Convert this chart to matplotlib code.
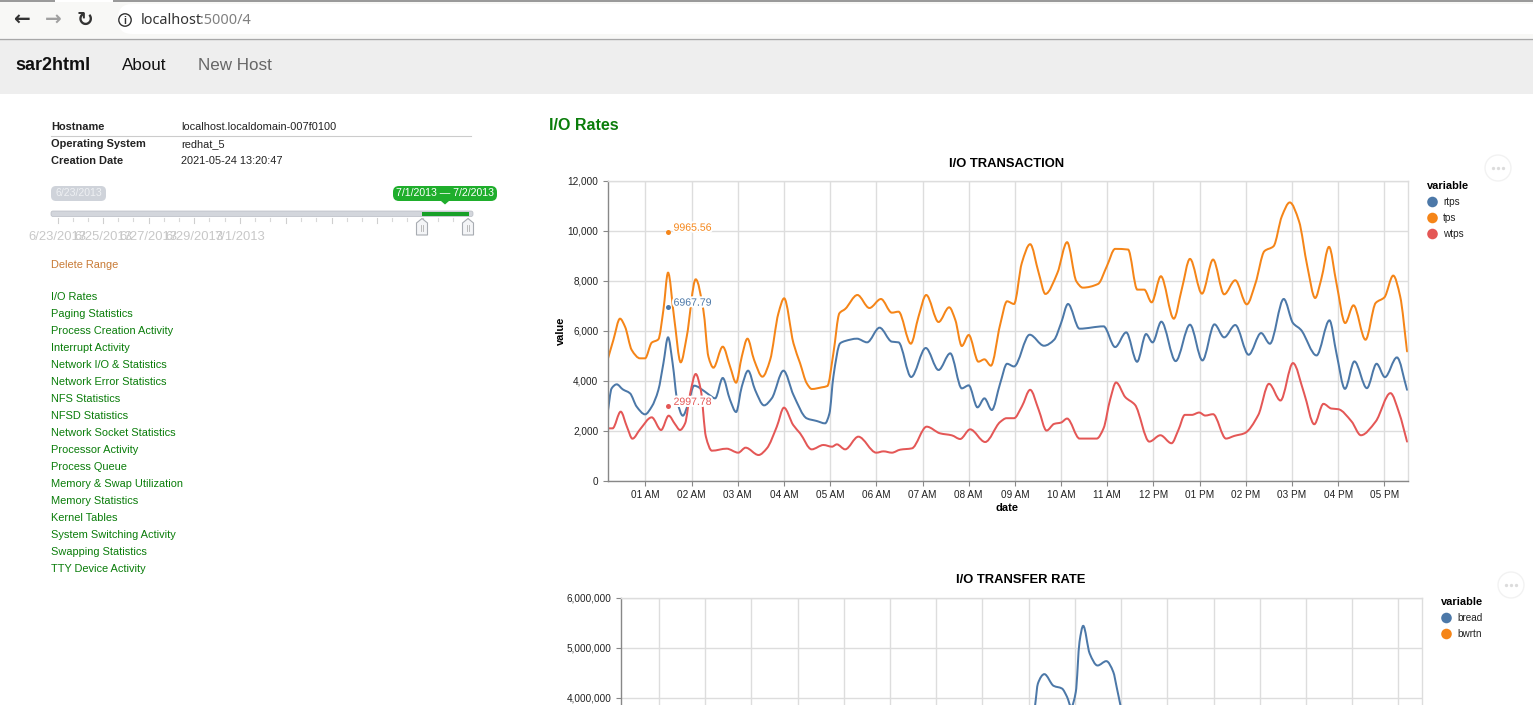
import matplotlib
matplotlib.use("Agg")
import numpy as np
import matplotlib.pyplot as plt
from matplotlib.path import Path
from matplotlib.patches import PathPatch, Rectangle, FancyBboxPatch, Circle, Polygon
import matplotlib.patheffects as pe

plt.rcParams['font.family'] = ['Liberation Sans', 'DejaVu Sans']

# ---------- chart 1: hours since midnight and values ----------
tps_h = [.177,.307,.451,.56,.704,.885,.993,1.137,1.281,1.39,1.491,1.62,1.765,1.895,2.09,2.255,2.365,2.473,2.675,2.834,2.964,3.087,3.21,3.354,3.534,3.70,3.88,4.004,4.206,4.35,4.494,4.603,4.82,4.94,5.07,5.20,5.325,5.59,5.85,6.10,6.336,6.48,6.747,6.913,7.08,7.347,7.577,7.71,7.85,8.0,8.21,8.34,8.48,8.68,8.83,8.98,9.15,9.33,9.515,9.66,9.92,10.13,10.33,10.47,10.80,10.99,11.17,11.45,11.65,11.80,11.96,12.16,12.44,12.61,12.79,13.05,13.29,13.53,13.77,14.02,14.21,14.40,14.6,14.78,14.95,15.15,15.33,15.50,15.63,15.80,15.96,16.15,16.33,16.59,16.81,17.0,17.19,17.34,17.49]
tps_v = [4813,5640,6493,6170,5240,4907,4907,5533,5667,6840,8333,6573,4747,5773,8067,6840,4973,4533,5373,4573,3933,4973,5693,4840,4173,4840,6707,7307,5507,4707,3907,3680,3747,3800,5107,6707,6880,7440,6920,7280,6733,6773,5493,6573,7440,6360,6947,6440,5400,5840,4773,4867,4613,6250,7188,7081,8724,9472,8323,7482,8323,9552,7989,7735,7882,8590,9285,9258,7655,7655,7147,8190,6493,7655,8884,7495,8857,7468,8029,7067,7922,9191,9392,10594,11142,10394,8590,7321,8056,9365,7922,6319,7027,5651,7121,7348,8216,7388,5184]

rtps_h = [.177,.27,.38,.51,.668,.812,.993,1.137,1.281,1.39,1.491,1.59,1.693,1.81,1.93,2.054,2.29,2.386,2.51,2.675,2.834,2.964,3.087,3.224,3.376,3.57,3.736,3.99,4.206,4.494,4.71,4.89,4.985,5.07,5.216,5.325,5.58,5.80,6.07,6.336,6.48,6.754,7.07,7.347,7.6,7.85,8.0,8.19,8.34,8.5,8.68,8.83,8.98,9.32,9.63,9.85,10.0,10.15,10.40,10.92,11.17,11.41,11.645,11.84,11.98,12.17,12.48,12.79,13.06,13.32,13.53,13.77,14.06,14.33,14.52,14.82,15.02,15.19,15.53,15.81,15.96,16.145,16.35,16.62,16.83,17.01,17.27,17.49]
rtps_v = [2640,3706,3866,3666,3506,2973,2666,2973,3640,4706,5746,4706,3173,2613,3106,3813,3573,3440,3306,4120,3240,2760,3773,4413,3640,3026,3306,4413,3440,2506,2400,2306,2706,4173,5506,5600,5693,5546,6133,5573,5546,4160,5320,4440,5106,3706,3826,2946,3306,2840,3900,4689,4582,5852,5411,5651,6319,7081,6092,6186,5357,5945,4770,5878,5544,6373,4796,6252,4823,6266,5745,6239,5050,5918,5491,7281,6319,6052,5023,6426,5117,3687,4783,3714,4689,4155,4943,3647]

wtps_h = [.177,.29,.466,.60,.72,.885,1.137,1.34,1.505,1.64,1.75,1.86,1.97,2.09,2.2,2.31,2.44,2.76,3.01,3.17,3.45,3.63,3.845,4.0,4.2,4.35,4.60,4.855,5.04,5.145,5.325,5.61,6.0,6.155,6.336,6.516,6.77,7.09,7.38,7.635,7.815,8.03,8.356,8.68,8.82,8.98,9.15,9.33,9.515,9.685,9.85,10.0,10.13,10.40,10.77,10.92,11.06,11.19,11.39,11.60,11.91,12.15,12.39,12.54,12.68,12.83,12.99,13.12,13.29,13.57,13.75,13.97,14.27,14.50,14.75,15.02,15.26,15.48,15.68,15.85,16.0,16.29,16.49,16.81,17.13,17.32,17.49]
wtps_v = [2106,2106,2773,2173,1693,2066,2546,2040,2613,2280,2040,2306,3506,4280,3640,1773,1213,1293,1133,1333,1040,1306,2173,2933,2240,1906,1266,1440,1373,1466,1266,1773,1133,1186,1133,1253,1306,2173,1906,1826,1680,2066,1560,2360,2512,2512,2979,3647,2846,2017,2285,2338,2498,1697,1697,2111,3246,3941,3353,3046,1576,1830,1510,2044,2645,2645,2739,2618,2672,1697,1804,1910,2645,3888,3220,4716,3514,2271,3086,2899,2872,2378,1830,2378,3514,2712,1576]

mark_h = [1.49, 1.49, 1.49]
mark_v = [9965.56, 6967.79, 2997.78]
mark_lbl = ['9965.56', '6967.79', '2997.78']

hour_ticks = list(range(1, 18))
hour_lbls = ['01 AM','02 AM','03 AM','04 AM','05 AM','06 AM','07 AM','08 AM','09 AM','10 AM','11 AM','12 PM','01 PM','02 PM','03 PM','04 PM','05 PM']
y1_ticks = [0, 2000, 4000, 6000, 8000, 10000, 12000]

# ---------- chart 2 (visible part) ----------
bread_h = [9.14,9.2,9.34,9.54,9.72,9.83,9.92,10.02,10.1,10.18,10.32,10.49,10.68,10.83,10.91,11.0]
bread_v = [3.847e6,4.28e6,4.467e6,4.233e6,4.18e6,4.013e6,3.813e6,4.113e6,5.113e6,5.433e6,4.88e6,4.64e6,4.727e6,4.513e6,4.18e6,3.78e6]
y2_ticks = [4000000, 5000000, 6000000]

# ---------- page text ----------
info_keys = ['Hostname', 'Operating System', 'Creation Date']
info_vals = ['localhost.localdomain-007f0100', 'redhat_5', '2021-05-24 13:20:47']
menu_items = ['I/O Rates','Paging Statistics','Process Creation Activity','Interrupt Activity','Network I/O & Statistics','Network Error Statistics','NFS Statistics','NFSD Statistics','Network Socket Statistics','Processor Activity','Process Queue','Memory & Swap Utilization','Memory Statistics','Kernel Tables','System Switching Activity','Swapping Statistics','TTY Device Activity']
slider_lbls = ['6/23/2013','6/25/2013','6/27/2013','6/29/2013','7/1/2013']

BLUE, ORANGE, RED = '#4c78a8', '#f58518', '#e45756'
W, H = 1533, 705
px = 0.72  # css px -> pt at dpi 100


def pchip_path(x, y):
    """Cubic Bezier path through the read points (a smooth line style)."""
    x, y = np.asarray(x, float), np.asarray(y, float)
    h = np.diff(x)
    s = np.diff(y) / h
    m = np.zeros_like(x)
    for i in range(1, len(x) - 1):
        if s[i - 1] * s[i] > 0:
            w1, w2 = 2 * h[i] + h[i - 1], h[i] + 2 * h[i - 1]
            m[i] = (w1 + w2) / (w1 / s[i - 1] + w2 / s[i])
    m[0], m[-1] = s[0], s[-1]
    verts, codes = [(x[0], y[0])], [Path.MOVETO]
    for i in range(len(h)):
        verts += [(x[i] + h[i] / 3, y[i] + m[i] * h[i] / 3),
                  (x[i + 1] - h[i] / 3, y[i + 1] - m[i + 1] * h[i] / 3),
                  (x[i + 1], y[i + 1])]
        codes += [Path.CURVE4] * 3
    return Path(verts, codes)


fig = plt.figure(figsize=(W / 100, H / 100), dpi=100, facecolor='white')

# page layer in pixel coordinates
pg = fig.add_axes([0, 0, 1, 1], zorder=0)
pg.set_xlim(0, W)
pg.set_ylim(H, 0)
pg.axis('off')


def T(x, y, s, size=11, color='#222222', weight='normal', ha='left', va='center', **kw):
    return pg.text(x, y, s, fontsize=size * px, color=color, fontweight=weight, ha=ha, va=va, **kw)


# browser chrome
pg.add_patch(Rectangle((0, 0), W, 3, fc='#9a9a9a', ec='none'))
pg.add_patch(Rectangle((55, 0), 58, 3, fc='white', ec='none'))
pg.add_patch(Rectangle((0, 2), W, 36, fc='#f8f8f6', ec='none'))
pg.add_patch(FancyBboxPatch((118, 4), W, 30, boxstyle='round,pad=0,rounding_size=14', fc='white', ec='none'))
pg.plot([0, W], [38.5, 38.5], color='#a8a8a8', lw=1)
pg.add_patch(Rectangle((0, 39), W, 55, fc='#eeeeee', ec='none'))
T(21, 20, '←', 20, '#333333', 'bold', ha='center', family='DejaVu Sans')
T(53, 20, '→', 20, '#a0a0a0', 'bold', ha='center', family='DejaVu Sans')
T(85, 20, '↻', 20, '#333333', 'bold', ha='center', family='DejaVu Sans')
pg.add_patch(Circle((125, 20), 6.2, fc='none', ec='#333333', lw=1))
T(125, 20.5, 'i', 10, '#333333', 'bold', ha='center')
t = T(141, 20, 'localhost', 14.5, '#333333', family='Noto Sans')
T(200, 20, ':5000/4', 14.5, '#808080', family='Noto Sans')

# navbar
T(15, 66, 'sar2html', 18, '#111111', 'bold')
T(122, 65, 'About', 17, '#111111')
T(198, 65, 'New Host', 17, '#666666')

# info table
for i, (k, v) in enumerate(zip(info_keys, info_vals)):
    T(51, 127 + 17 * i, k, 11, '#222222', 'bold')
    T(181, 127 + 17 * i, v, 11, '#222222')
pg.plot([51, 471], [135.5, 135.5], color='#cccccc', lw=0.8)

# slider badges
pg.add_patch(FancyBboxPatch((51, 186), 55, 15, boxstyle='round,pad=0,rounding_size=5', fc='#cfd3da', ec='none'))
T(78.5, 193.5, '6/23/2013', 10.5, '#eef0f3', ha='center')
pg.add_patch(FancyBboxPatch((393, 186), 104, 15, boxstyle='round,pad=0,rounding_size=6', fc='#1fae2c', ec='none'))
pg.add_patch(Polygon([(441, 201), (449, 201), (445, 204.5)], fc='#1fae2c', ec='none'))
T(445, 193.5, '7/1/2013 — 7/2/2013', 10.5, '#ffffff', ha='center')

# slider track
pg.add_patch(FancyBboxPatch((51, 211), 422, 5.5, boxstyle='round,pad=0,rounding_size=2', fc='#d3d6dc', ec='#b8bcc4', lw=0.5))
pg.add_patch(Rectangle((422, 211.5), 47, 4.8, fc='#17a028', ec='none'))
major_x = [57.5, 103, 148.5, 194, 240, 285.5, 331.5, 377, 422.5, 468]
for a, b in zip(major_x[:-1], major_x[1:]):
    pg.plot([a, a], [218, 223], color='#cfcfcf', lw=0.8)
    for f in (1 / 3, 2 / 3):
        pg.plot([a + (b - a) * f] * 2, [218, 220.5], color='#d8d8d8', lw=0.8)
pg.plot([468, 468], [218, 223], color='#cfcfcf', lw=0.8)
for xp, s in zip(major_x, slider_lbls):
    T(xp, 236.5, s, 13, '#c8c8c8', ha='center')
for xp in (422, 468):
    pg.add_patch(Polygon([(xp, 218.5), (xp + 5.5, 223), (xp + 5.5, 235), (xp - 5.5, 235), (xp - 5.5, 223)],
                         fc='#f4f5f7', ec='#a8acb2', lw=0.8, zorder=5))
    pg.plot([xp - 1.3, xp - 1.3], [225, 231], color='#b0b0b0', lw=0.6, zorder=6)
    pg.plot([xp + 1.3, xp + 1.3], [225, 231], color='#b0b0b0', lw=0.6, zorder=6)

T(51, 265, 'Delete Range', 11, '#c87a35')
for i, s in enumerate(menu_items):
    T(51, 297 + 17 * i, s, 11, '#0a7d0a')
T(549, 125, 'I/O Rates', 16, '#0a7d0a', 'bold')


def chart_axes(l, t, r, b, xlim, ylim):
    ax = fig.add_axes([l / W, 1 - b / H, (r - l) / W, (b - t) / H], zorder=2)
    ax.patch.set_alpha(0)
    ax.set_xlim(*xlim)
    ax.set_ylim(*ylim)
    ax.set_xticks(hour_ticks)
    ax.grid(True, color='#dddddd', lw=1)
    ax.set_axisbelow(True)
    for side in ('top', 'right'):
        ax.spines[side].set_color('#dddddd')
        ax.spines[side].set_linewidth(1)
    for side in ('left', 'bottom'):
        ax.spines[side].set_color('#888888')
        ax.spines[side].set_linewidth(1)
    ax.tick_params(length=5 * px, width=0.8, color='#888888', labelsize=10 * px, pad=3, labelcolor='#222222')
    return ax


# ---------- chart 1 ----------
ax1 = chart_axes(607.5, 181, 1408, 481, (0.18, 17.51), (0, 12000))
ax1.set_xticklabels(hour_lbls)
ax1.set_yticks(y1_ticks)
ax1.set_yticklabels([f'{v:,}' for v in y1_ticks])
for xs, ys, c in ((rtps_h, rtps_v, BLUE), (tps_h, tps_v, ORANGE), (wtps_h, wtps_v, RED)):
    ax1.add_patch(PathPatch(pchip_path(xs, ys), fill=False, ec=c, lw=2 * px, capstyle='round'))
for xv, yv, s, c in zip(mark_h, mark_v, mark_lbl, (ORANGE, BLUE, RED)):
    ax1.plot([xv], [yv], 'o', color=c, ms=5 * px, mec='none', zorder=6)
    ax1.annotate(s, (xv, yv), xytext=(4, 3), textcoords='offset points', fontsize=10.5 * px, color=c, va='center',
                 zorder=7, path_effects=[pe.withStroke(linewidth=3, foreground='white')])
T(1007, 164, 'I/O TRANSACTION', 13, '#000000', 'bold', ha='center')
T(1007, 508, 'date', 11, '#000000', 'bold', ha='center')
T(561, 331, 'value', 11, '#000000', 'bold', ha='center', rotation=90)
T(1427, 186, 'variable', 11, '#000000', 'bold')
for yp, s, c in zip((202, 218, 234), ('rtps', 'tps', 'wtps'), (BLUE, ORANGE, RED)):
    pg.add_patch(Circle((1432.5, yp), 5.3, fc=c, ec='none'))
    T(1443, yp, s, 10, '#222222')

# ---------- chart 2 ----------
ymin2 = 4000000 - (705 - 697.5) / 50 * 1000000
ax2 = chart_axes(621, 597.5, 1422, 705, (0.18, 17.51), (ymin2, 6000000))
ax2.set_xticklabels([])
ax2.spines['bottom'].set_visible(False)
ax2.tick_params(axis='x', length=0)
ax2.set_yticks(y2_ticks)
ax2.set_yticklabels([f'{v:,}' for v in y2_ticks])
ax2.add_patch(PathPatch(pchip_path(bread_h, bread_v), fill=False, ec=BLUE, lw=2 * px))
T(1021, 580, 'I/O TRANSFER RATE', 13, '#000000', 'bold', ha='center')
T(1441, 602, 'variable', 11, '#000000', 'bold')
for yp, s, c in zip((618, 634), ('bread', 'bwrtn'), (BLUE, ORANGE)):
    pg.add_patch(Circle((1446.5, yp), 5.3, fc=c, ec='none'))
    T(1457, yp, s, 10, '#222222')

# action menu dots
for xc, yc in ((1498, 168), (1511, 585)):
    pg.add_patch(Circle((xc, yc), 13, fc='white', ec='#f2f2f2', lw=1))
    pg.plot([xc - 5, xc, xc + 5], [yc, yc, yc], 'o', color='#dcdcdc', ms=2.4, mec='none')

fig.savefig('out.png', dpi=100, facecolor='white')
